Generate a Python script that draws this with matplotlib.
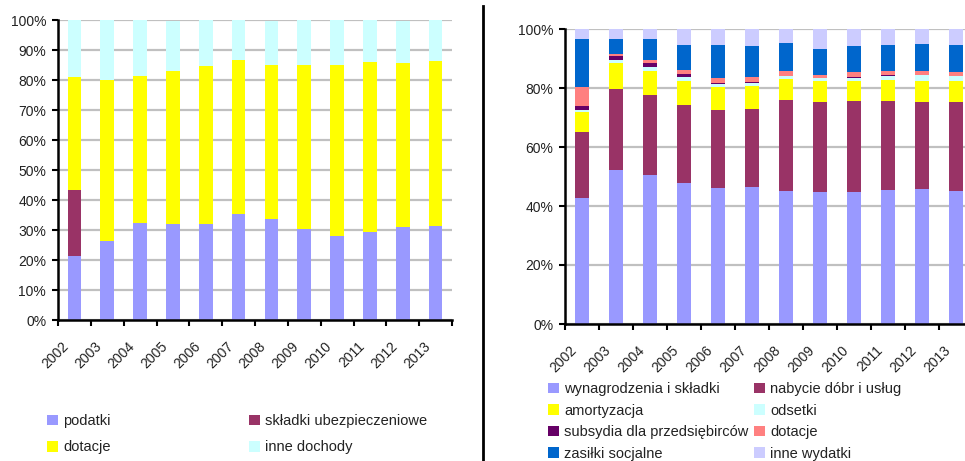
import numpy as np
import matplotlib
matplotlib.use('Agg')
import matplotlib.pyplot as plt
from matplotlib.patches import Patch
from matplotlib.lines import Line2D
from matplotlib.ticker import PercentFormatter

plt.rcParams['font.family'] = ['Liberation Sans', 'DejaVu Sans']
plt.rcParams['font.size'] = 10

lata = ['2002', '2003', '2004', '2005', '2006', '2007',
        '2008', '2009', '2010', '2011', '2012', '2013']

# dochody (udzial w %)
podatki = [21.3, 26.3, 32.3, 32.0, 32.0, 35.3, 33.7, 30.3, 28.0, 29.3, 31.0, 31.3]
skladki_ubezp = [22.0, 0, 0, 0, 0, 0, 0, 0, 0, 0, 0, 0]
dotacje_doch = [37.6, 53.7, 49.0, 51.0, 52.7, 51.4, 51.2, 54.6, 56.9, 56.7, 54.6, 54.9]
inne_dochody = [19.1, 20.0, 18.7, 16.7, 15.3, 13.3, 14.8, 15.1, 15.1, 14.0, 14.1, 13.8]

# wydatki (udzial w %)
wynagrodzenia = [42.7, 52.2, 50.5, 47.8, 46.1, 46.4, 45.1, 44.7, 44.7, 45.4, 45.8, 45.1]
nabycie = [22.4, 27.5, 27.1, 26.4, 26.4, 26.5, 30.8, 30.6, 30.9, 30.2, 29.5, 30.2]
amortyzacja = [6.9, 8.8, 8.2, 8.2, 7.8, 7.9, 7.2, 7.1, 6.8, 7.1, 7.1, 7.1]
odsetki = [0.5, 1.0, 1.3, 1.3, 1.1, 0.9, 1.0, 1.0, 1.0, 1.4, 2.0, 1.7]
subsydia = [1.4, 1.3, 1.4, 1.0, 0.3, 0.3, 0.1, 0.0, 0.3, 0.3, 0.0, 0.0]
dotacje_wyd = [6.4, 0.7, 1.0, 1.4, 1.7, 1.7, 1.6, 1.0, 1.7, 1.4, 1.4, 1.3]
zasilki = [16.3, 5.1, 7.1, 8.5, 11.2, 10.5, 9.5, 8.8, 8.8, 8.8, 9.1, 9.2]
inne_wydatki = [3.4, 3.4, 3.4, 5.4, 5.4, 5.8, 4.7, 6.8, 5.8, 5.4, 5.1, 5.4]

serie_doch = [
    ('podatki', podatki, '#9999FF'),
    ('składki ubezpieczeniowe', skladki_ubezp, '#993366'),
    ('dotacje', dotacje_doch, '#FFFF00'),
    ('inne dochody', inne_dochody, '#CCFFFF'),
]
serie_wyd = [
    ('wynagrodzenia i składki', wynagrodzenia, '#9999FF'),
    ('nabycie dóbr i usług', nabycie, '#993366'),
    ('amortyzacja', amortyzacja, '#FFFF00'),
    ('odsetki', odsetki, '#CCFFFF'),
    ('subsydia dla przedsiębirców', subsydia, '#660066'),
    ('dotacje', dotacje_wyd, '#FF8080'),
    ('zasiłki socjalne', zasilki, '#0066CC'),
    ('inne wydatki', inne_wydatki, '#CCCCFF'),
]


def rysuj_slupki(ax, serie, krok):
    x = np.arange(len(lata))
    dol = np.zeros(len(lata))
    for nazwa, wartosci, kolor in serie:
        ax.bar(x, wartosci, bottom=dol, width=0.42, color=kolor, zorder=2)
        dol += np.array(wartosci)
    ax.set_xlim(-0.5, len(lata) - 0.5)
    ax.set_ylim(0, 100)
    ax.set_yticks(np.arange(0, 101, krok))
    ax.yaxis.set_major_formatter(PercentFormatter(decimals=0))
    # kreski osi X na granicach kategorii, etykiety lat obrocone o 45 stopni
    ax.set_xticks(np.arange(len(lata) + 1) - 0.5)
    ax.set_xticklabels([])
    for i, rok in enumerate(lata):
        ax.annotate(rok, xy=(i, 0), xycoords=('data', 'axes fraction'),
                    xytext=(-9, -14), textcoords='offset points',
                    rotation=45, ha='right', va='top', rotation_mode='anchor',
                    color='#222222', annotation_clip=False)
    ax.tick_params(axis='x', length=4, width=1.5, direction='out')
    ax.tick_params(axis='y', length=4, width=1.5, pad=4.5, labelcolor='#222222')
    ax.grid(axis='y', color='#C0C0C0', linewidth=1.6, zorder=0)
    ax.set_axisbelow(True)
    for s in ['top', 'right']:
        ax.spines[s].set_visible(False)
    for s in ['left', 'bottom']:
        ax.spines[s].set_linewidth(1.8)
        ax.spines[s].set_zorder(3)


def legenda_kolumna(fig, serie, x, y, odstep):
    uchwyty = [Patch(facecolor=k, edgecolor='none', label=n) for n, w, k in serie]
    fig.legend(handles=uchwyty, loc='upper left', bbox_to_anchor=(x, y),
               frameon=False, handlelength=0.75, handleheight=0.75,
               handletextpad=0.35, labelspacing=odstep, borderaxespad=0,
               borderpad=0, fontsize=10.5, labelcolor='#222222')


fig = plt.figure(figsize=(9.65, 4.61), dpi=100)
W, H = 965, 461

ax1 = fig.add_axes([58 / W, (H - 320) / H, 394 / W, 300 / H])
rysuj_slupki(ax1, serie_doch, 10)

ax2 = fig.add_axes([565 / W, (H - 324) / H, 408 / W, 295 / H])
rysuj_slupki(ax2, serie_wyd, 20)

legenda_kolumna(fig, [serie_doch[0], serie_doch[2]], 47 / W, (H - 414) / H, 0.85)
legenda_kolumna(fig, [serie_doch[1], serie_doch[3]], 249 / W, (H - 414) / H, 0.85)
legenda_kolumna(fig, serie_wyd[0::2], 548 / W, (H - 382) / H, 0.52)
legenda_kolumna(fig, serie_wyd[1::2], 754 / W, (H - 382) / H, 0.52)

fig.add_artist(Line2D([482.5 / W, 482.5 / W], [0, (H - 6) / H], color='black', linewidth=2))

fig.savefig('out.png', dpi=100)
